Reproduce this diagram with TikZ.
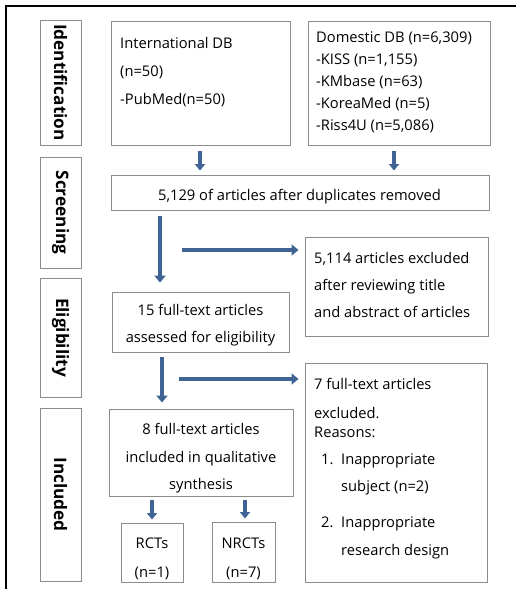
\documentclass[tikz,border=0pt]{standalone}
\usepackage{fontspec}
\setmainfont{Open Sans}
\usetikzlibrary{arrows.meta}
\definecolor{arrowblue}{HTML}{3F6395}
\definecolor{boxgray}{HTML}{8C8C8C}
\tikzset{
  box/.style={draw=boxgray, line width=0.9pt, inner sep=0pt, fill=white},
  sidebox/.style={box},
  sidetext/.style={font=\fontsize{17.2}{20}\selectfont\bfseries, rotate=-90, inner sep=0pt},
  txt/.style={font=\fontsize{14.7}{17}\selectfont, inner sep=0pt},
  ltxt/.style={txt, anchor=base west},
  ctxt/.style={txt, anchor=base},
  sarrow/.style={draw=arrowblue, line width=3.6pt, -{Triangle[width=10pt,length=6.5pt]}},
  barrow/.style={draw=arrowblue, line width=4.4pt, -{Triangle[width=11pt,length=7pt]}},
}
\begin{document}
\begin{tikzpicture}[x=1pt,y=-1pt]
\useasboundingbox (0,0) rectangle (516,589);
% outer frame (top and left edges)
\draw[line width=1.6pt] (516,6) -- (6,6) -- (6,589);

% side labels
\node[sidebox, minimum width=41pt, minimum height=125pt] (idl) at (60.5,82.5) {};
\node[sidetext] at (idl.center) {Identification};
\node[sidebox, minimum width=41pt, minimum height=111pt] (scl) at (60.5,212.5) {};
\node[sidetext] at (scl.center) {Screening};
\node[sidebox, minimum width=41pt, minimum height=119pt] (ell) at (60.5,337.5) {};
\node[sidetext] at (ell.center) {Eligibility};
\node[sidebox, minimum width=41pt, minimum height=173pt] (inl) at (60.5,494.5) {};
\node[sidetext] at (inl.center) {Included};

% boxes
\node[box, minimum width=179pt, minimum height=124pt] (intl) at (200.5,83) {};
\node[box, minimum width=182pt, minimum height=124pt] (dom) at (399,83) {};
\node[box, minimum width=378pt, minimum height=35pt] (scr) at (300,192.5) {};
\node[box, minimum width=183pt, minimum height=99pt] (exc1) at (396.5,286.5) {};
\node[box, minimum width=177pt, minimum height=60pt] (elig) at (200.5,322) {};
\node[box, minimum width=182pt, minimum height=219pt] (exc2) at (396,472.5) {};
\node[box, minimum width=184pt, minimum height=87pt] (incl) at (201,452.5) {};
\node[box, minimum width=62pt, minimum height=59pt] (rct) at (152,552.5) {};
\node[box, minimum width=63pt, minimum height=60pt] (nrct) at (243.5,552) {};

% texts
\node[ltxt] at (120,48) {International DB};
\node[ltxt] at (120,76) {(n=50)};
\node[ltxt] at (120,104) {-PubMed(n=50)};

\node[ltxt] at (316,42) {Domestic DB (n=6,309)};
\node[ltxt] at (316,64.5) {-KISS (n=1,155)};
\node[ltxt] at (316,86.5) {-KMbase (n=63)};
\node[ltxt] at (316,108.5) {-KoreaMed (n=5)};
\node[ltxt] at (316,130.5) {-Riss4U (n=5,086)};

\node[ctxt] at (299.5,200) {5,129 of articles after duplicates removed};

\node[ltxt] at (314,263) {5,114 articles excluded};
\node[ltxt] at (314,290) {after reviewing title};
\node[ltxt] at (314,317) {and abstract of articles};

\node[ctxt] at (200.5,315) {15 full-text articles};
\node[ctxt] at (200.5,342) {assessed for eligibility};

\node[ctxt] at (201,434) {8 full-text articles};
\node[ctxt] at (201,462) {included in qualitative};
\node[ctxt] at (201,489) {synthesis};

\node[ctxt] at (152,548) {RCTs};
\node[ctxt] at (152,577) {(n=1)};
\node[ctxt] at (243.5,548) {NRCTs};
\node[ctxt] at (243.5,577) {(n=7)};

\node[ltxt] at (314,389) {7 full-text articles};
\node[ltxt] at (314,418) {excluded.};
\node[ltxt] at (314,437) {Reasons:};
\node[ltxt] at (321,464) {1.};
\node[ltxt] at (341,464) {Inappropriate};
\node[ltxt] at (341,491) {subject (n=2)};
\node[ltxt] at (321,527) {2.};
\node[ltxt] at (341,527) {Inappropriate};
\node[ltxt] at (341,555) {research design};

% connector helper coordinates
\coordinate (xa) at (200,0);
\coordinate (xb) at (394,0);
\coordinate (xc) at (160,0);
\coordinate (xd) at (162,0);
\coordinate (xe) at (152,0);
\coordinate (xf) at (245,0);
\coordinate (h1) at (182,250);
\coordinate (h2) at (179,379);

% connectors
\draw[sarrow, shorten <=6pt, shorten >=4pt] (intl.south -| xa) -- (scr.north -| xa);
\draw[sarrow, shorten <=6pt, shorten >=4pt] (dom.south -| xb) -- (scr.north -| xb);
\draw[barrow, shorten <=6pt, shorten >=9pt] (scr.south -| xc) -- (elig.north -| xc);
\draw[barrow] (h1) -- ([xshift=-6pt]exc1.west |- h1);
\draw[barrow, shorten <=5pt, shorten >=6pt] (elig.south -| xd) -- (incl.north -| xd);
\draw[barrow] (h2) -- ([xshift=-6pt]exc2.west |- h2);
\draw[sarrow, shorten <=4pt, shorten >=3pt] (incl.south -| xe) -- (rct.north -| xe);
\draw[sarrow, shorten <=4pt, shorten >=3pt] (incl.south -| xf) -- (nrct.north -| xf);
\end{tikzpicture}
\end{document}
